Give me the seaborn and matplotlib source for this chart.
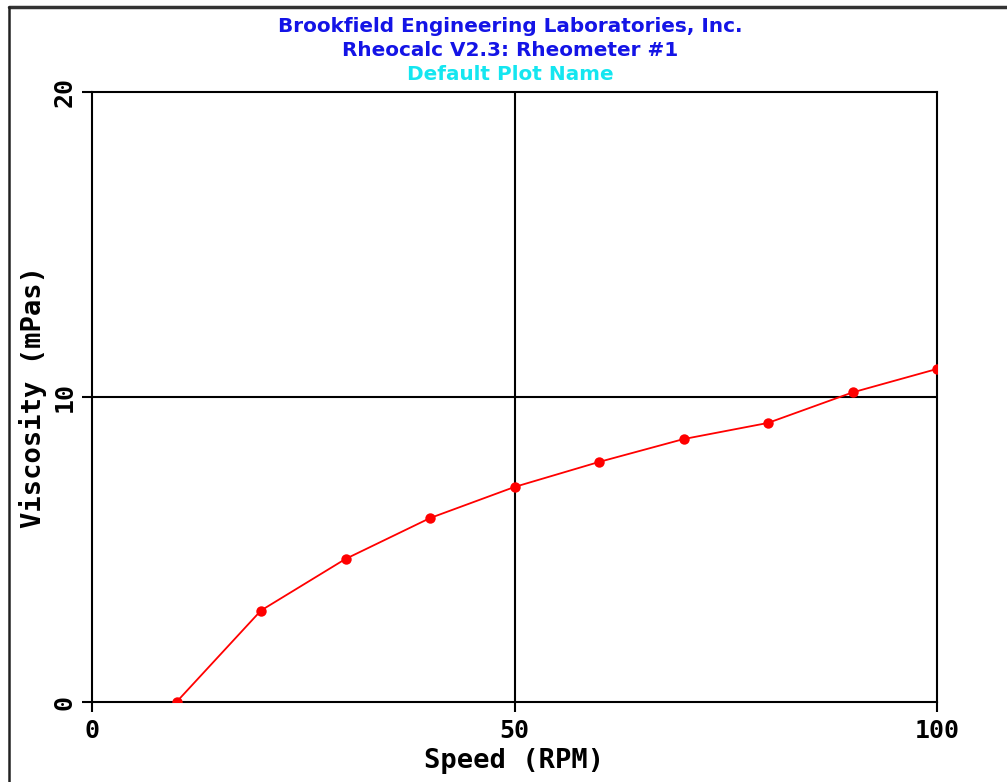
import matplotlib
matplotlib.use("Agg")
import matplotlib.pyplot as plt
from matplotlib.lines import Line2D
import seaborn as sns
import pandas as pd

# Data
speed_rpm = [10, 20, 30, 40, 50, 60, 70, 80, 90, 100]
viscosity_mpas = [0.0, 3.0, 4.69, 6.03, 7.05, 7.87, 8.62, 9.15, 10.15, 10.92]
x_ticks = [0, 50, 100]
y_ticks = [0, 10, 20]
title_lines = ["Brookfield Engineering Laboratories, Inc.",
               "Rheocalc V2.3: Rheometer #1",
               "Default Plot Name"]

sns.set_style("white")
plt.rcParams['font.family'] = ['DejaVu Sans']
plt.rcParams['text.color'] = 'black'
plt.rcParams['axes.labelcolor'] = 'black'

df = pd.DataFrame({"Speed": speed_rpm, "Viscosity": viscosity_mpas})

fig = plt.figure(figsize=(10.07, 7.82), dpi=100)
ax = fig.add_axes([92/1007, 1-702/782, (937-92)/1007, (702-92)/782])

sns.lineplot(data=df, x="Speed", y="Viscosity", ax=ax, color="#FF0000",
             linewidth=1.3, marker="o", markersize=7.5, markeredgewidth=0,
             zorder=5)

ax.set_xlim(0, 100)
ax.set_ylim(0, 20)
ax.set_xticks(x_ticks)
ax.set_yticks(y_ticks)

mono = dict(family="DejaVu Sans Mono", weight="bold", color="black")
ax.set_xticklabels([str(t) for t in x_ticks], fontsize=18, **mono)
ax.set_yticklabels([str(t) for t in y_ticks], fontsize=18, rotation=90,
                   va="center", **mono)
ax.tick_params(axis="x", bottom=True, direction="out", length=7, width=1.5,
               pad=5, colors="black")
ax.tick_params(axis="y", left=True, direction="out", length=7, width=1.5,
               pad=4, colors="black")
ax.set_xlabel("Speed (RPM)", fontsize=19.5, labelpad=4, **mono)
ax.set_ylabel("Viscosity (mPas)", fontsize=19.5, labelpad=4, **mono)

for sp in ax.spines.values():
    sp.set_visible(True)
    sp.set_color("black")
    sp.set_linewidth(1.5)

ax.grid(False)
ax.axvline(50, color="black", linewidth=1.5, zorder=2)
ax.axhline(10, color="black", linewidth=1.5, zorder=2)

cx = 510 / 1007
fig.text(cx, 1 - 26/782, title_lines[0], ha="center", va="center",
         fontsize=14.4, weight="bold", color="#1414E6")
fig.text(cx, 1 - 50/782, title_lines[1], ha="center", va="center",
         fontsize=14.4, weight="bold", color="#1414E6")
fig.text(cx, 1 - 75/782, title_lines[2], ha="center", va="center",
         fontsize=14.4, weight="bold", color="#14E6F0")

# window frame
fig.add_artist(Line2D([8.5/1007, 1], [1 - 6.5/782, 1 - 6.5/782],
                      transform=fig.transFigure, color="#333333", linewidth=2.5))
fig.add_artist(Line2D([8.5/1007, 8.5/1007], [0, 1 - 6.5/782],
                      transform=fig.transFigure, color="#222222", linewidth=1.8))

fig.savefig("out.png", dpi=100, facecolor="white")
